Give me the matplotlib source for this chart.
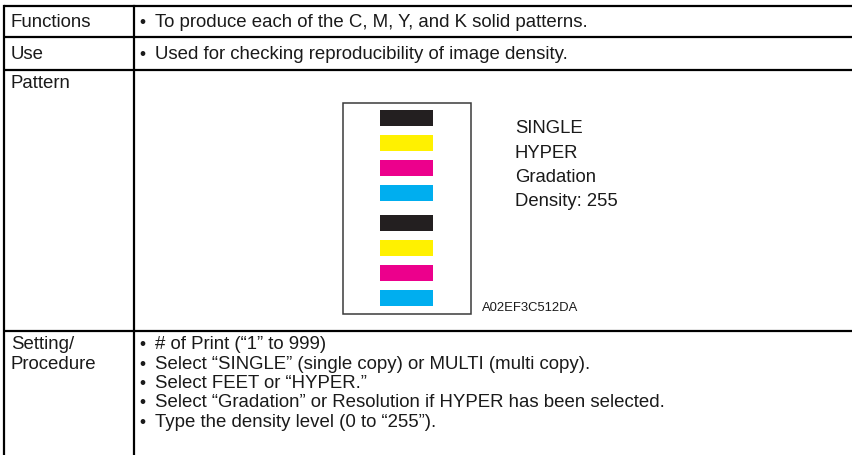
import matplotlib
matplotlib.use("Agg")
import matplotlib.pyplot as plt
from matplotlib.patches import Rectangle

plt.rcParams['font.family'] = ['Liberation Sans', 'DejaVu Sans']

# ---- data ----
row_labels = ["Functions", "Use", "Pattern", "Setting/\nProcedure"]
functions_items = ["To produce each of the C, M, Y, and K solid patterns."]
use_items = ["Used for checking reproducibility of image density."]
setting_items = [
    "# of Print (\u201c1\u201d to 999)",
    "Select \u201cSINGLE\u201d (single copy) or MULTI (multi copy).",
    "Select FEET or \u201cHYPER.\u201d",
    "Select \u201cGradation\u201d or Resolution if HYPER has been selected.",
    "Type the density level (0 to \u201c255\u201d).",
]
bar_colors = ["#231f20", "#fff100", "#ec008c", "#00aeef",
              "#231f20", "#fff100", "#ec008c", "#00aeef"]
pattern_labels = ["SINGLE", "HYPER", "Gradation", "Density: 255"]
figure_code = "A02EF3C512DA"

W, H = 853, 456
fig = plt.figure(figsize=(W / 100, H / 100), dpi=100)
ax = fig.add_axes([0, 0, 1, 1])
ax.set_xlim(0, W)
ax.set_ylim(H, 0)
ax.axis("off")

lw = 1.6
ink = "#1a1a1a"
fs_label = 13.4
fs_text = 13.45

# table lines
row_lines = [7, 38, 71, 332]
for y in row_lines:
    ax.plot([4, W], [y, y], color="black", lw=lw, solid_capstyle="butt")
ax.plot([4.5, 4.5], [7, H], color="black", lw=lw)
ax.plot([134, 134], [7, H], color="black", lw=lw)

# row labels
ax.text(11, 22.5, row_labels[0], fontsize=fs_label, va="center", color=ink)
ax.text(11, 54.5, row_labels[1], fontsize=fs_label, va="center", color=ink)
ax.text(11, 84, row_labels[2], fontsize=fs_label, va="center", color=ink)
ax.text(11, 345, "Setting/", fontsize=fs_label, va="center", color=ink)
ax.text(11, 364.3, "Procedure", fontsize=fs_label, va="center", color=ink)

def bullets(items, y0, step=19.3):
    for i, t in enumerate(items):
        y = y0 + i * step
        ax.text(139.5, y, "\u2022", fontsize=12.5, va="center", color=ink)
        ax.text(155, y, t, fontsize=fs_text, va="center", color=ink)

bullets(functions_items, 22.5)
bullets(use_items, 54.5)
bullets(setting_items, 345)

# pattern frame
ax.add_patch(Rectangle((343, 104), 128, 211, fill=False, edgecolor="#3a3a3a", lw=1.1))

# pattern bars
bar_y = []
for i in range(len(bar_colors)):
    bar_y.append(119 + i * 25 + (5 if i >= 4 else 0))
ax.barh(bar_y, [53] * len(bar_colors), left=380, height=16, color=bar_colors)

for i, t in enumerate(pattern_labels):
    ax.text(515, 129 + i * 24.3, t, fontsize=13.3, va="center", color=ink)

ax.text(482, 308, figure_code, fontsize=9.4, va="center", color=ink)

fig.savefig("out.png", dpi=100)
